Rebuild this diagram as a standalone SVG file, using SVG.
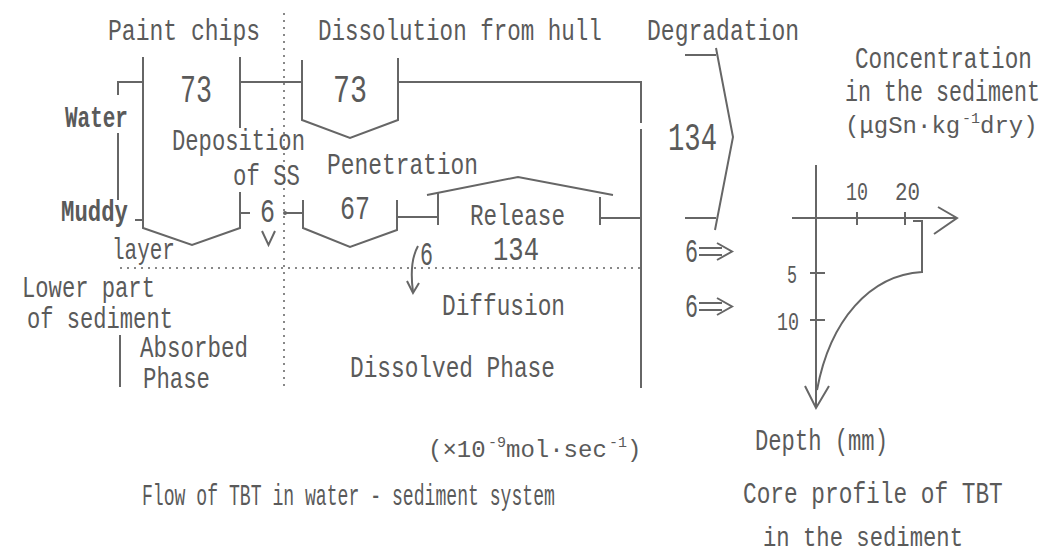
<svg xmlns="http://www.w3.org/2000/svg" width="1051" height="555" viewBox="0 0 1051 555">
<style>
text{font-family:"Liberation Mono","DejaVu Sans Mono",monospace;fill:#5a5a5a;font-size:30px}
.b{font-weight:bold}
.n{font-size:38px}
.m{font-size:33px}
.s{font-size:26px}
.u{font-size:24px}
.sup{font-size:15px}
.ln{fill:none;stroke:#666;stroke-width:2}
.dot{fill:none;stroke:#888;stroke-width:2;stroke-dasharray:2 5}
</style>
<rect width="1051" height="555" fill="#fff"/>
<g id="headers">
<text transform="translate(108,40) scale(0.768,1)">Paint chips</text>
<text transform="translate(318,40) scale(0.751,1)">Dissolution from hull</text>
<text transform="translate(647,40) scale(0.768,1)">Degradation</text>
</g>
<g id="dividers">
<line class="dot" x1="284" y1="13" x2="284" y2="386"/>
<line class="dot" x1="120" y1="268" x2="640" y2="268"/>
</g>
<g id="layer-labels">
<polyline class="ln" points="118,95 118,82 143,82"/>
<line class="ln" x1="118" y1="133" x2="118" y2="200"/>
<text class="b" transform="translate(65,127) scale(0.7,1)">Water</text>
<text class="b" transform="translate(61,221) scale(0.744,1)">Muddy</text>
<line class="ln" x1="135" y1="220" x2="143" y2="220"/>
<text transform="translate(112,259) scale(0.7,1)">layer</text>
<text transform="translate(22,297) scale(0.739,1)">Lower part</text>
<text transform="translate(27,328) scale(0.737,1)">of sediment</text>
<line class="ln" x1="120" y1="335" x2="120" y2="387"/>
<text transform="translate(140,357) scale(0.75,1)">Absorbed</text>
<text transform="translate(143,388) scale(0.744,1)">Phase</text>
</g>
<g id="paint-chips">
<polyline class="ln" points="143,57 143,228 192,245 240,228 240,192"/>
<line class="ln" x1="240" y1="57" x2="240" y2="128"/>
<text class="n" x="180" y="102" textLength="32" lengthAdjust="spacingAndGlyphs">73</text>
</g>
<g id="hull">
<polyline class="ln" points="302,60 302,120 350,138 398,120 398,58"/>
<text class="n" x="333" y="102" textLength="34" lengthAdjust="spacingAndGlyphs">73</text>
</g>
<g id="penetration">
<polyline class="ln" points="303,200 303,228 350,247 397,230 397,200"/>
<text class="m" x="340" y="219" textLength="30" lengthAdjust="spacingAndGlyphs">67</text>
<text transform="translate(327,174) scale(0.763,1)">Penetration</text>
</g>
<g id="release">
<polyline class="ln" points="427,195 518,177 613,195"/>
<line class="ln" x1="438" y1="193" x2="438" y2="225"/>
<line class="ln" x1="600" y1="197" x2="600" y2="225"/>
<text transform="translate(470,225) scale(0.754,1)">Release</text>
<text class="m" x="493" y="260" textLength="46" lengthAdjust="spacingAndGlyphs">134</text>
</g>
<g id="deposition">
<text transform="translate(172,150) scale(0.739,1)">Deposition</text>
<text transform="translate(233,185) scale(0.744,1)">of SS</text>
<text class="m" x="260" y="222" textLength="15" lengthAdjust="spacingAndGlyphs">6</text>
</g>
<g id="degradation">
<polyline class="ln" points="685,55 716,55"/>
<polyline class="ln" points="716,48 733,137 715,230"/>
<line class="ln" x1="685" y1="218" x2="716" y2="218"/>
<text class="n" x="668" y="150" textLength="49" lengthAdjust="spacingAndGlyphs">134</text>
</g>
<g id="diffusion">
<text transform="translate(442,315) scale(0.759,1)">Diffusion</text>
<text transform="translate(350,377) scale(0.759,1)">Dissolved Phase</text>
<text class="m" x="420" y="265" textLength="13" lengthAdjust="spacingAndGlyphs">6</text>
</g>
<g id="outflows">
<text class="m" x="685" y="262" textLength="13" lengthAdjust="spacingAndGlyphs">6</text>
<text class="m" x="685" y="317" textLength="13" lengthAdjust="spacingAndGlyphs">6</text>
</g>
<g id="connectors">
<line class="ln" x1="240" y1="82" x2="302" y2="82"/>
<polyline class="ln" points="398,82 641,82 641,123"/>
<line class="ln" x1="641" y1="129" x2="641" y2="388"/>
<line class="ln" x1="397" y1="217" x2="438" y2="217"/>
<line class="ln" x1="600" y1="218" x2="641" y2="218"/>
<line class="ln" x1="240" y1="213" x2="250" y2="213"/>
<line class="ln" x1="285" y1="213" x2="303" y2="213"/>
<circle cx="285" cy="213" r="2" fill="#666"/>
<polyline class="ln" points="262,231 268.5,245 275,231"/>
<path class="ln" d="M418,246 Q409,262 413,292"/>
<polyline class="ln" points="407,281 413,293 419,283"/>
<path class="ln" d="M699,248 H722 M699,255 H722 M717,243 L732,251.5 L717,260"/>
<path class="ln" d="M699,303 H722 M699,310 H722 M717,298 L732,306.5 L717,315"/>
</g>
<g id="units">
<text class="u" x="428" y="457">(×10</text>
<text class="sup" x="488" y="447">-9</text>
<text class="u" x="506" y="457">mol·sec</text>
<text class="sup" x="609" y="447">-1</text>
<text class="u" x="627" y="457">)</text>
<text transform="translate(142,505) scale(0.604,1)">Flow of TBT in water - sediment system</text>
</g>
<g id="graph">
<text transform="translate(855,68) scale(0.756,1)">Concentration</text>
<text transform="translate(845,101) scale(0.722,1)">in the sediment</text>
<text class="u" x="845" y="133">(μgSn·kg</text>
<text class="sup" x="962" y="123">-1</text>
<text class="u" x="980" y="133">dry)</text>
<line class="ln" x1="792" y1="218" x2="957" y2="218"/>
<polyline class="ln" points="938,207 957,218 934,234"/>
<line class="ln" x1="816" y1="165" x2="816" y2="408"/>
<polyline class="ln" points="805,386 816,408 829,386"/>
<line class="ln" x1="857" y1="212" x2="857" y2="225"/>
<line class="ln" x1="905" y1="212" x2="905" y2="225"/>
<line class="ln" x1="810" y1="273" x2="825" y2="273"/>
<line class="ln" x1="810" y1="320" x2="825" y2="320"/>
<text class="s" x="846" y="200" textLength="22" lengthAdjust="spacingAndGlyphs">10</text>
<text class="s" x="895" y="200" textLength="25" lengthAdjust="spacingAndGlyphs">20</text>
<text class="s" x="787" y="283" textLength="10" lengthAdjust="spacingAndGlyphs">5</text>
<text class="s" x="777" y="330" textLength="22" lengthAdjust="spacingAndGlyphs">10</text>
<path class="ln" d="M913,221 L922,221 L922,272 C870,275 830,320 817,390"/>
<text transform="translate(755,450) scale(0.739,1)">Depth (mm)</text>
<text transform="translate(743,503) scale(0.76,1)">Core profile of TBT</text>
<text style="font-size:28px" transform="translate(763,546) scale(0.794,1)">in the sediment</text>
</g>
</svg>
